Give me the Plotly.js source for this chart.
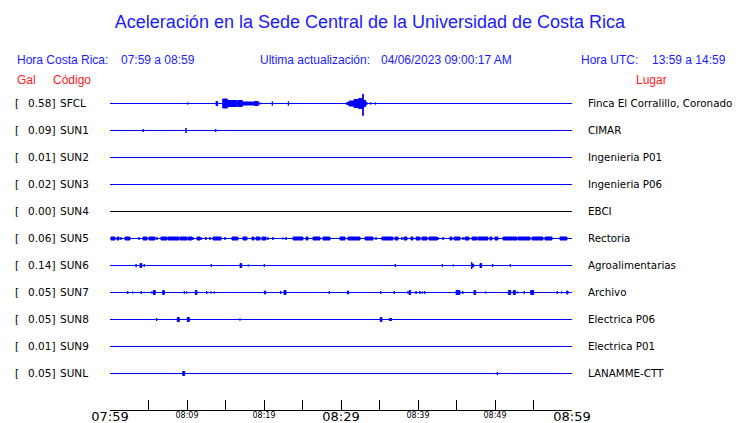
<!DOCTYPE html>
<html>
<head>
<meta charset="utf-8">
<script src="https://cdn.plot.ly/plotly-3.0.1.min.js"></script>
<style>html,body{margin:0;padding:0;background:#fff;}#chart{width:740px;height:423px;}</style>
</head>
<body>
<div id="chart"></div>
<script>
// ---------------- DATA ----------------
const codes = ['SFCL','SUN1','SUN2','SUN3','SUN4','SUN5','SUN6','SUN7','SUN8','SUN9','SUNL'];
const galValues = ['0.58','0.09','0.01','0.02','0.00','0.06','0.14','0.05','0.05','0.01','0.05'];
const places = ['Finca El Corralillo, Coronado','CIMAR','Ingenieria P01','Ingenieria P06','EBCI','Rectoria',
  'Agroalimentarias','Archivo','Electrica P06','Electrica P01','LANAMME-CTT'];
const traceColors = ['#0000ff','#0000ff','#0000ff','#0000ff','#000000','#0000ff','#0000ff','#0000ff','#0000ff','#0000ff','#0000ff'];

// tick positions: minutes after 07:59
const tickMinutes = [0,5,10,15,20,25,30,35,40,45,50,55,60];
const tickLabels = ['07:59','','08:09','','08:19','','08:29','','08:39','','08:49','','08:59'];
const majorTicks = ['07:59','08:29','08:59'];

// bursts: [startMinute, endMinute, amplitudeUp, amplitudeDown]
const sfclBursts = [
  [10.09,10.09,1,1],[13.77,13.99,2,2],[14.64,15.23,4.5,4.5],[15.23,16.45,3,3],[16.58,17.18,3,3],
  [17.18,18.61,1.5,1.5],[18.70,19.26,2,2],[19.48,19.48,1,1],[21.08,21.08,2,2],[23.16,23.16,2,2],
  [30.74,31.04,1,1],[31.04,31.69,2.5,2.5],[31.69,32.30,4,4],[32.30,32.82,5,5],[32.82,32.90,9.3,12],
  [32.90,33.21,3,3],[33.34,33.34,1.5,1.5],[33.86,33.86,1,1],[34.45,34.45,1,1]
];
const sun1Bursts = [[4.32,4.32,1.5,1.5],[9.87,9.87,2.5,2.5],[13.73,13.73,1.5,1.5]];
const sun2Bursts = [];
const sun3Bursts = [];
const sun4Bursts = [];
const sun5Bursts = [
  [0.13,0.65,1.5,1.5],[0.91,1.17,1.5,1.5],[1.43,1.43,1.5,1.5],[1.95,2.60,1.5,1.5],[3.77,3.77,1.5,1.5],
  [4.29,4.81,1.5,1.5],[5.06,5.84,1.5,1.5],[6.10,6.10,1.5,1.5],[6.62,7.40,1.5,1.5],[7.53,8.96,1.5,1.5],
  [9.09,10.0,1.5,1.5],[10.13,10.65,1.5,1.5],[10.78,10.78,1.5,1.5],[11.30,11.69,1.5,1.5],[11.82,11.82,1.5,1.5],
  [12.47,12.47,1.5,1.5],[12.99,12.99,1.5,1.5],[13.38,14.42,1.5,1.5],[14.94,14.94,1.5,1.5],[15.84,16.62,1.5,1.5],
  [17.27,17.79,1.5,1.5],[18.44,18.70,1.5,1.5],[18.96,19.48,1.5,1.5],[19.74,20.26,1.5,1.5],[20.52,20.52,1.5,1.5],
  [21.17,21.17,1.5,1.5],[22.47,22.47,1,1],[22.86,22.86,1.5,1.5],[23.77,25.06,1.5,1.5],[25.45,25.71,1.5,1.5],
  [26.36,27.27,1.5,1.5],[27.66,28.57,1.5,1.5],[29.87,30.52,1.5,1.5],[30.91,32.47,1.5,1.5],[33.12,34.16,1.5,1.5],
  [34.55,34.55,1.5,1.5],[35.32,36.75,1.5,1.5],[37.01,37.40,1.5,1.5],[37.92,37.92,1.5,1.5],[38.18,38.57,1.5,1.5],
  [39.09,39.35,1.5,1.5],[39.74,40.26,1.5,1.5],[40.52,41.17,1.5,1.5],[41.43,42.47,1.5,1.5],[42.60,42.60,1.5,1.5],
  [43.25,43.25,1.5,1.5],[44.16,44.42,1.5,1.5],[44.68,45.45,1.5,1.5],[45.84,45.84,1.5,1.5],[46.10,46.62,1.5,1.5],
  [47.01,47.66,1.5,1.5],[47.79,49.09,1.5,1.5],[49.35,49.61,1.5,1.5],[50.0,50.39,1.5,1.5],[51.04,52.86,1.5,1.5],
  [52.99,54.55,1.5,1.5],[54.81,56.23,1.5,1.5],[56.49,57.40,1.5,1.5],[58.44,59.35,1.5,1.5]
];
const sun6Bursts = [
  [3.38,3.38,1.5,1.5],[3.90,4.12,2,2],[4.45,4.45,1.5,1.5],[8.22,8.22,0.5,0.5],[13.16,13.16,1.5,1.5],
  [16.88,17.10,2,2],[17.96,17.96,1,1],[20.04,20.04,1.5,1.5],[24.38,24.38,0.5,0.5],[37.05,37.05,1.5,1.5],
  [43.16,43.16,1.5,1.5],[44.58,44.58,1,1],[46.40,46.40,0.5,0.5],[46.97,46.97,3.5,3.5],[47.01,47.23,1.5,1.5],
  [48.05,48.27,2,2],[49.70,49.70,1.5,1.5],[51.99,51.99,1.5,1.5]
];
const sun7Bursts = [
  [1.65,1.65,0.5,0.5],[2.30,2.30,1.5,1.5],[2.95,2.95,1,1],[4.06,4.06,1.5,1.5],[5.42,5.42,1,1],
  [5.62,5.88,2,2],[6.84,7.05,2,2],[9.65,9.65,1.5,1.5],[9.96,9.96,1,1],[11.08,11.30,2,2],
  [12.56,12.56,1.5,1.5],[13.12,13.12,1,1],[13.55,13.55,1,1],[15.81,15.81,0.5,0.5],[17.57,17.57,0.5,0.5],
  [20.04,20.22,1.5,1.5],[22.17,22.17,1.5,1.5],[22.60,22.86,2,2],[26.06,26.06,0.5,0.5],[28.48,28.48,1.5,1.5],
  [30.61,30.61,0.5,0.5],[30.82,30.99,1.5,1.5],[32.69,32.69,0.5,0.5],[35.16,35.16,1.5,1.5],[36.01,36.01,0.5,0.5],
  [36.92,36.92,1.5,1.5],[38.66,38.66,1,1],[38.83,39.05,2,2],[39.74,39.74,1.5,1.5],[40.26,40.26,1.5,1.5],
  [40.56,40.56,1,1],[40.87,40.87,1.5,1.5],[44.94,45.45,2,2],[45.81,45.81,1.5,1.5],[47.27,47.49,2,2],
  [48.79,48.79,1,1],[51.17,51.17,0.5,0.5],[51.73,52.04,2,2],[52.38,52.64,2,2],[52.90,52.90,1,1],
  [53.81,53.81,1.5,1.5],[54.64,55.03,2,2],[55.94,55.94,0.5,0.5],[58.09,58.09,1.5,1.5],[58.66,58.66,1,1],
  [59.31,59.48,1.5,1.5]
];
const sun8Bursts = [
  [6.06,6.06,1.5,1.5],[8.74,9.00,2,2],[10.04,10.30,2,2],[16.88,16.88,1,1],[26.27,26.27,0.5,0.5],
  [35.10,35.32,2,2],[36.27,36.58,1,1],[37.31,37.31,0.5,0.5],[37.79,37.79,0.5,0.5],[59.31,59.31,0.5,0.5]
];
const sun9Bursts = [];
const sunlBursts = [[9.44,9.70,2,2],[28.87,28.87,0.5,0.5],[50.30,50.30,1.5,1.5]];

const allBursts = [sfclBursts,sun1Bursts,sun2Bursts,sun3Bursts,sun4Bursts,sun5Bursts,sun6Bursts,
  sun7Bursts,sun8Bursts,sun9Bursts,sunlBursts];

// ---------------- LAYOUT CONSTANTS ----------------
const W = 740, H = 423;
const PL = 110, PR = 572, PT = 83, PB = 410;   // plot box in px
const ROW0 = 103.5, ROWGAP = 27;               // px of first trace and gap
const X0 = 0, X1 = 60;

const px2paperX = px => (px - PL) / (PR - PL);
const py2paperY = py => (PB - py) / (PB - PT);
const rowBase = i => -(ROW0 + ROWGAP * i);

// ---------------- TRACES ----------------
const traces = codes.map((code, i) => {
  const b = rowBase(i);
  const xs = [X0, X1, null], ys = [b, b, null];
  allBursts[i].forEach(([t0, t1, up, dn]) => {
    xs.push(t0, t1, t1, t0, t0, null);
    ys.push(b + up, b + up, b - dn, b - dn, b + up, null);
  });
  return {
    type: 'scatter', mode: 'lines', x: xs, y: ys,
    line: {color: traceColors[i], width: 1}, fill: 'toself', fillcolor: traceColors[i],
    hoverinfo: 'skip', showlegend: false
  };
});

// ---------------- ANNOTATIONS ----------------
const ann = [];
const txt = (text, px, py, anchor, color, size, family) => ann.push({
  text, xref: 'paper', yref: 'paper', x: px2paperX(px), y: py2paperY(py),
  xanchor: anchor, yanchor: 'middle', showarrow: false,
  font: {family: family || 'Liberation Sans, Arial, sans-serif', size: size || 12, color: color}
});
txt('Hora Costa Rica:', 15, 60, 'left', '#1a1aff');
txt('07:59 a 08:59', 119, 60, 'left', '#1a1aff');
txt('Ultima actualización:', 258, 60, 'left', '#1a1aff');
txt('04/06/2023 09:00:17 AM', 379, 60, 'left', '#1a1aff');
txt('Hora UTC:', 579, 60, 'left', '#1a1aff');
txt('13:59 a 14:59', 650, 60, 'left', '#1a1aff');
txt('Gal', 15, 80, 'left', '#ff1a1a');
txt('Código', 51, 80, 'left', '#ff1a1a');
txt('Lugar', 634, 80, 'left', '#ff1a1a');

const lab = 'DejaVu Sans, sans-serif';
codes.forEach((code, i) => {
  const py = ROW0 - 0.5 + ROWGAP * i;
  txt('[', 13, py, 'left', '#000', 10.5, lab);
  txt(galValues[i] + ']', 57, py, 'right', '#000', 10.5, lab);
  txt(code, 58, py, 'left', '#000', 10.5, lab);
  txt(places[i], 586, py, 'left', '#000', 10.3, lab);
});

const tickText = tickLabels.map(t => t === '' ? '' :
  (majorTicks.includes(t) ? t : '<span style="font-size:8px;baseline-shift:3px">' + t + '</span>'));

const layout = {
  width: W, height: H,
  margin: {l: PL, r: W - PR, t: PT, b: H - PB, pad: 0},
  paper_bgcolor: '#fff', plot_bgcolor: '#fff',
  title: {text: 'Aceleración en la Sede Central de la Universidad de Costa Rica',
    font: {family: 'Liberation Sans, Arial, sans-serif', size: 18, color: '#1a1aff'},
    x: 0.5, xref: 'container', xanchor: 'center', y: 1 - 22 / H, yref: 'container', yanchor: 'middle'},
  xaxis: {range: [X0, X1], showgrid: false, zeroline: false, showline: true, linecolor: '#000', linewidth: 1,
    ticks: 'inside', ticklen: 10, tickwidth: 1, tickcolor: '#000',
    tickmode: 'array', tickvals: tickMinutes, ticktext: tickText,
    tickfont: {family: lab, size: 13, color: '#000'}, ticklabelstandoff: -6, fixedrange: true},
  yaxis: {range: [-PB, -PT], visible: false, showgrid: false, zeroline: false, fixedrange: true},
  annotations: ann, showlegend: false
};

Plotly.newPlot('chart', traces, layout, {staticPlot: true, displayModeBar: false});
</script>
</body>
</html>
